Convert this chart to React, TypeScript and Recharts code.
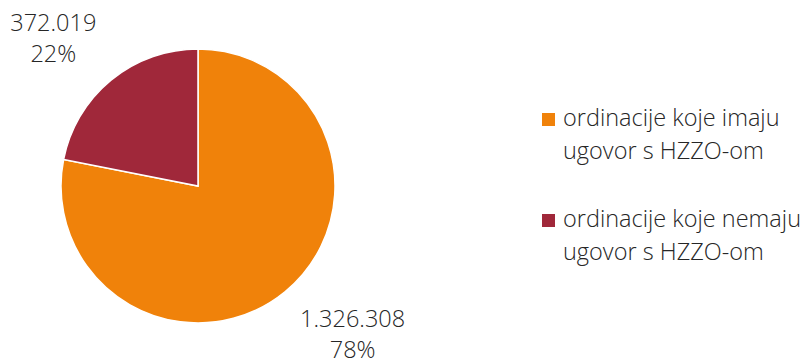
import { PieChart, Pie, Cell, Legend } from "recharts";

const categories = ["ordinacije koje imaju ugovor s HZZO-om", "ordinacije koje nemaju ugovor s HZZO-om"];
const legendLines = [
  ["ordinacije koje imaju", "ugovor s HZZO-om"],
  ["ordinacije koje nemaju", "ugovor s HZZO-om"],
];
const values = [1326308, 372019];
const colors = ["#F0820A", "#A0283A"];

const data = categories.map((name, i) => ({ name, value: values[i] }));
const total = values.reduce((a, b) => a + b, 0);

const FONT = "'Open Sans', 'Noto Sans', sans-serif";
const RAD = Math.PI / 180;

function fmt(n: number) {
  return String(n).replace(/\B(?=(\d{3})+(?!\d))/g, ".");
}

function renderLabel(props: any) {
  const { cx, cy, midAngle, outerRadius, value } = props;
  const x = cx + Math.cos(-midAngle * RAD) * outerRadius * 1.72 + 5;
  const y = cy + Math.sin(-midAngle * RAD) * outerRadius * 1.4 + 9;
  const pct = Math.round((value / total) * 100) + "%";
  return (
    <text x={x} y={y} textAnchor="middle" fill="#262626" fontFamily={FONT} fontSize={23.5} fontWeight={300}>
      <tspan x={x} y={y - 16}>{fmt(value)}</tspan>
      <tspan x={x} y={y + 15}>{pct}</tspan>
    </text>
  );
}

function LegendBox() {
  return (
    <div style={{ fontFamily: FONT, fontSize: 23.5, fontWeight: 300, color: "#262626", lineHeight: "33px" }}>
      {legendLines.map((lines, i) => (
        <div key={i} style={{ display: "flex", marginBottom: i === 0 ? 35 : 0 }}>
          <div style={{ width: 13, height: 13, background: colors[i], marginTop: 12, marginRight: 8, flexShrink: 0 }} />
          <div>
            {lines.map((l, j) => (
              <div key={j}>{l}</div>
            ))}
          </div>
        </div>
      ))}
    </div>
  );
}

export default function App() {
  return (
    <div style={{ position: "absolute", left: 0, top: 0, width: 809, height: 360, background: "#fff" }}>
      <PieChart width={809} height={360} margin={{ top: 0, right: 0, bottom: 0, left: 0 }}>
        <Pie
          data={data}
          dataKey="value"
          nameKey="name"
          cx={198}
          cy={186}
          outerRadius={137}
          startAngle={90}
          endAngle={-270}
          stroke="#fff"
          strokeWidth={1.5}
          label={renderLabel}
          labelLine={false}
          isAnimationActive={false}
        >
          {data.map((d, i) => (
            <Cell key={d.name} fill={colors[i]} />
          ))}
        </Pie>
        <Legend
          content={<LegendBox />}
          wrapperStyle={{ left: 542, top: 101, width: 267 }}
        />
      </PieChart>
    </div>
  );
}
